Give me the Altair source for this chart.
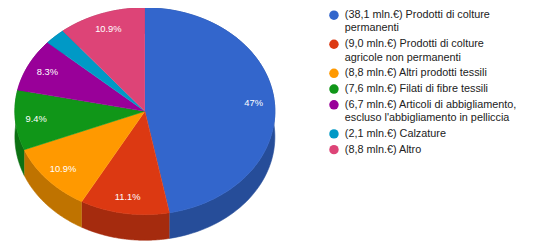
import altair as alt
import pandas as pd

# ---- data ----
CATS = [
    "Prodotti di colture permanenti",
    "Prodotti di colture agricole non permanenti",
    "Altri prodotti tessili",
    "Filati di fibre tessili",
    "Articoli di abbigliamento, escluso l'abbigliamento in pelliccia",
    "Calzature",
    "Altro",
]
VALUES = [38.1, 9.0, 8.8, 7.6, 6.7, 2.1, 8.8]
LEGEND_LINES = [
    ["(38,1 mln.€) Prodotti di colture", "permanenti"],
    ["(9,0 mln.€) Prodotti di colture", "agricole non permanenti"],
    ["(8,8 mln.€) Altri prodotti tessili"],
    ["(7,6 mln.€) Filati di fibre tessili"],
    ["(6,7 mln.€) Articoli di abbigliamento,", "escluso l'abbigliamento in pelliccia"],
    ["(2,1 mln.€) Calzature"],
    ["(8,8 mln.€) Altro"],
]

# ---- styles ----
COLORS = ["#3366cc", "#dc3912", "#ff9900", "#109618", "#990099", "#0099c6", "#dd4477"]
SIDES = ["#264d99", "#a52b0e", "#bf7300", "#0c7112", "#730073", "#007394", "#a63359"]

N = 80            # points per arc
DEPTH = 0.248     # pie thickness, in y-scale units
LABEL_R = 0.84

total = sum(VALUES)
rows, labels = [], []
acc = 0.0
for cat, v in zip(CATS, VALUES):
    s, e = acc / total, (acc + v) / total
    acc += v
    for k in range(-1, 2 * N + 2):
        rows.append({"cat": cat, "s": s, "e": e, "k": k})
    pct = round(100 * v / total, 1)
    txt = (f"{pct:.1f}".rstrip("0").rstrip(".")) + "%"
    if pct >= 3:
        labels.append({"cat": cat, "m": (s + e) / 2, "txt": txt})
pts = pd.DataFrame(rows)
lab = pd.DataFrame(labels)

xs = alt.Scale(domain=[-1, 1], range=[7, 271])
ys = alt.Scale(domain=[-1, 1], range=[-2, 208])

base = alt.Chart(pts)

walls = base.transform_filter("datum.k >= 0").transform_calculate(
    j=f"datum.k <= {N} ? datum.k : {2 * N + 1} - datum.k"
).transform_calculate(
    a="2 * PI * (datum.s + (datum.e - datum.s) * datum.j / " + str(N) + ")"
).transform_calculate(
    px="sin(datum.a)",
    py=f"-cos(datum.a) + (datum.k > {N} ? {DEPTH} : 0)",
).mark_line(strokeWidth=0.6, interpolate="linear").encode(
    x=alt.X("px:Q", scale=xs, axis=None),
    y=alt.Y("py:Q", scale=ys, axis=None),
    fill=alt.Fill("cat:N", scale=alt.Scale(domain=CATS, range=SIDES), legend=None),
    stroke=alt.Stroke("cat:N", scale=alt.Scale(domain=CATS, range=SIDES), legend=None),
    order=alt.Order("k:Q"),
)

top = base.transform_filter(f"datum.k <= {N}").transform_calculate(
    a="2 * PI * (datum.s + (datum.e - datum.s) * datum.k / " + str(N) + ")"
).transform_calculate(
    px="datum.k < 0 ? 0 : sin(datum.a)",
    py="datum.k < 0 ? 0 : -cos(datum.a)",
).mark_line(strokeWidth=0.6, interpolate="linear").encode(
    x=alt.X("px:Q", scale=xs, axis=None),
    y=alt.Y("py:Q", scale=ys, axis=None),
    fill=alt.Fill("cat:N", scale=alt.Scale(domain=CATS, range=COLORS), legend=None),
    stroke=alt.Stroke("cat:N", scale=alt.Scale(domain=CATS, range=COLORS), legend=None),
    order=alt.Order("k:Q"),
)

texts = alt.Chart(lab).transform_calculate(
    px=f"{LABEL_R} * sin(2 * PI * datum.m)",
    py=f"-{LABEL_R} * cos(2 * PI * datum.m)",
).mark_text(color="white", fontSize=9.5, font="Liberation Sans", baseline="middle", align="center").encode(
    x=alt.X("px:Q", scale=xs, axis=None),
    y=alt.Y("py:Q", scale=ys, axis=None),
    text="txt:N",
)

pie = alt.layer(walls, top, texts).resolve_scale(fill="independent", stroke="independent")

# ---- legend (custom) ----
LINE_H = 13.5
PITCH = 16.0
leg_rows, dot_rows = [], []
y0 = 13.5 - 8
extra = 0
for i, (cat, lines) in enumerate(zip(CATS, LEGEND_LINES)):
    ybase = y0 + PITCH * i + LINE_H * extra
    dot_rows.append({"cat": cat, "ly": ybase})
    for j, line in enumerate(lines):
        leg_rows.append({"cat": cat, "ly": ybase + LINE_H * j, "line": line})
    extra += len(lines) - 1
leg_df = pd.DataFrame(leg_rows)
dot_df = pd.DataFrame(dot_rows)
ly = alt.Scale(domain=[0, 236], range=[0, 236])

dots = alt.Chart(dot_df).mark_circle(size=92, opacity=1).encode(
    x=alt.value(331),
    y=alt.Y("ly:Q", scale=ly, axis=None),
    fill=alt.Fill("cat:N", scale=alt.Scale(domain=CATS, range=COLORS), legend=None),
)
legtext = alt.Chart(leg_df).mark_text(
    align="left", baseline="middle", fontSize=11, font="Liberation Sans", color="#222222"
).encode(
    x=alt.value(342),
    y=alt.Y("ly:Q", scale=ly, axis=None),
    text="line:N",
)
legend = alt.layer(dots, legtext)

chart = alt.layer(pie, legend).resolve_scale(
    x="independent", y="independent", fill="independent", stroke="independent"
).properties(
    width=526, height=236, padding=0, autosize=alt.AutoSizeParams(type="none")
).configure_view(stroke=None)

chart.save("out.html", embed_options={"renderer": "svg", "actions": False})
